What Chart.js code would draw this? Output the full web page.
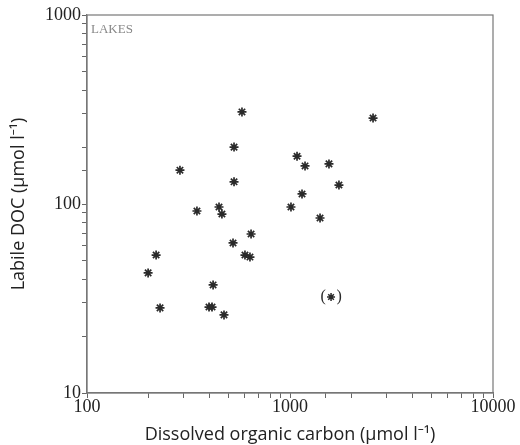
<!DOCTYPE html>
<html>
<head>
<meta charset="utf-8">
<script src="https://cdn.jsdelivr.net/npm/chart.js@4/dist/chart.umd.min.js"></script>
<style>
  html, body { margin: 0; padding: 0; background: #fff; }
  #wrap { width: 520px; height: 445px; }
</style>
</head>
<body>
<div id="wrap"><canvas id="chart" width="520" height="445"></canvas></div>
<script>
// Lakes: total DOC vs labile DOC (umol/l)
const docValues = [200, 219, 229, 287, 348, 447, 462, 530, 530, 580, 418, 399, 413, 473,
  524, 643, 600, 635, 1011, 1083, 1186, 1146, 1406, 1556, 1742, 2565];
const labileValues = [43.2, 53.7, 28.2, 151, 91.8, 96.4, 88.5, 200, 131, 307, 37.3, 28.5, 28.5, 25.9,
  62.2, 69.4, 53.7, 52.4, 96.4, 179, 159, 113, 84.3, 163, 126, 285];
// the bracketed point
const outlierDoc = [1593];
const outlierLabile = [32.2];

const majorTicks = [10, 100, 1000, 10000];
const panelLabel = "LAKES";

const serif = "'Liberation Serif', 'DejaVu Serif', serif";
const sans = "'Open Sans', 'Noto Sans', sans-serif";
const ink = "#2a2a2a";

function toPoints(xs, ys) {
  return xs.map((x, i) => ({ x: x, y: ys[i] }));
}

const framePlugin = {
  id: "frame",
  afterDraw(chart) {
    const { ctx, chartArea } = chart;
    ctx.save();
    ctx.strokeStyle = "#777";
    ctx.lineWidth = 1.2;
    ctx.strokeRect(chartArea.left, chartArea.top, chartArea.right - chartArea.left, chartArea.bottom - chartArea.top);
    ctx.fillStyle = "#888";
    ctx.font = "13px " + serif;
    ctx.textBaseline = "top";
    ctx.fillText(panelLabel, chartArea.left + 4, chartArea.top + 8);

    // brackets around the doubtful point
    const meta = chart.getDatasetMeta(1);
    meta.data.forEach((pt) => {
      ctx.fillStyle = ink;
      ctx.font = "16px " + serif;
      ctx.textBaseline = "middle";
      ctx.textAlign = "center";
      ctx.fillText("(", pt.x - 8, pt.y);
      ctx.fillText(")", pt.x + 8, pt.y);
    });
    ctx.restore();
  },
};

const ctx = document.getElementById("chart");

new Chart(ctx, {
  type: "scatter",
  data: {
    datasets: [
      {
        data: toPoints(docValues, labileValues),
        pointStyle: "star",
        radius: 4.5,
        borderWidth: 1.7,
        borderColor: ink,
        backgroundColor: ink,
      },
      {
        data: toPoints(outlierDoc, outlierLabile),
        pointStyle: "star",
        radius: 4,
        borderWidth: 1.5,
        borderColor: ink,
        backgroundColor: ink,
      },
    ],
  },
  options: {
    responsive: false,
    animation: false,
    events: [],
    layout: { padding: { left: 4, right: 27, top: 15, bottom: 0 } },
    plugins: {
      legend: { display: false },
      tooltip: { enabled: false },
    },
    scales: {
      x: {
        type: "logarithmic",
        min: 100,
        max: 10000,
        afterFit: (scale) => { scale.height = 52; },
        border: { display: true, color: "#777", width: 1.2 },
        grid: { drawOnChartArea: false, drawTicks: true, tickLength: 5, color: "#666" },
        ticks: {
          autoSkip: false,
          maxRotation: 0,
          color: "#222",
          padding: 0,
          font: { family: serif, size: 18, lineHeight: 1 },
          callback: (v) => (majorTicks.includes(v) ? String(v) : ""),
        },
        title: {
          display: true,
          text: "Dissolved organic carbon (µmol l⁻¹)",
          color: "#222",
          padding: { top: 2, bottom: 0 },
          font: { family: sans, size: 18, lineHeight: 1.1 },
        },
      },
      y: {
        type: "logarithmic",
        min: 10,
        max: 1000,
        afterFit: (scale) => { scale.width = 83; },
        border: { display: true, color: "#777", width: 1.2 },
        grid: { drawOnChartArea: false, drawTicks: true, tickLength: 5, color: "#666" },
        ticks: {
          autoSkip: false,
          color: "#222",
          padding: 1,
          font: { family: serif, size: 18 },
          callback: (v) => (majorTicks.includes(v) ? String(v) : ""),
        },
        title: {
          display: true,
          text: "Labile DOC (µmol l⁻¹)",
          color: "#222",
          font: { family: sans, size: 18 },
        },
      },
    },
  },
  plugins: [framePlugin],
});
</script>
</body>
</html>
